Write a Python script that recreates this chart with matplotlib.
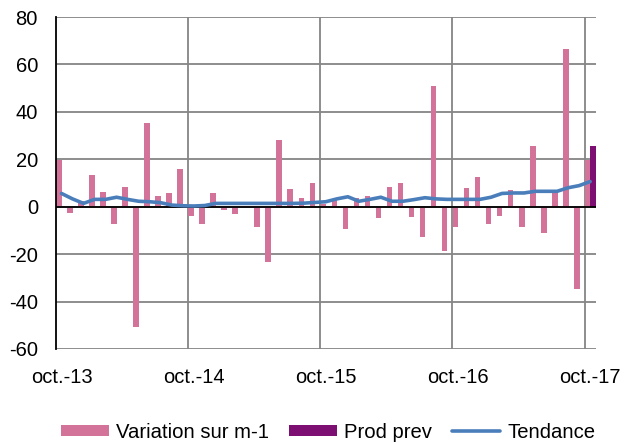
import matplotlib.pyplot as plt
import numpy as np

# Monthly series, oct-13 .. oct-17 (49 months)
variation = [19.5, -2.8, 2.6, 13.4, 6.3, -7.3, 8.2, -50.9, 35.2, 4.7, 5.6, 15.9,
             -3.9, -7.4, 5.6, -1.4, -3.1, 0.5, -8.4, -23.2, 28.2, 7.3, 3.8, 9.9,
             1.0, 2.8, -9.3, 3.5, 4.5, -4.9, 8.2, 9.9, -4.2, -12.7, 50.7, -18.6,
             -8.4, 8.0, 12.4, -7.4, -3.9, 7.2, -8.4, 25.6, -11.0, 5.6, 66.5, -34.5,
             19.7]
tendance = [5.6, 3.3, 1.4, 3.1, 3.1, 4.0, 3.1, 2.3, 2.1, 1.7, 0.7, 0.4,
            0.3, 0.5, 1.4, 1.4, 1.4, 1.4, 1.4, 1.4, 1.4, 1.4, 1.5, 1.8,
            2.1, 3.3, 4.2, 2.3, 3.1, 4.0, 2.3, 2.3, 3.0, 3.8, 3.3, 3.1,
            3.1, 3.1, 3.1, 4.0, 5.6, 5.8, 5.8, 6.5, 6.5, 6.5, 8.0, 8.9,
            10.6]
prod_prev_month = 48
prod_prev_value = 25.6
tick_labels = ['oct.-13', 'oct.-14', 'oct.-15', 'oct.-16', 'oct.-17']

plt.rcParams['font.family'] = ['Liberation Sans', 'DejaVu Sans']
plt.rcParams['axes.unicode_minus'] = False
fs = 14.5

pink = '#D4739A'
purple = '#7D0F72'
blue = '#4A7EBB'
grid = '#858585'

fig = plt.figure(figsize=(6.27, 4.43), dpi=100)
ax = fig.add_axes([0.0893, 0.2122, 0.8607, 0.7494])

x = np.arange(len(variation))
b1 = ax.bar(x - 0.22, variation, width=0.52, color=pink, label='Variation sur m-1', zorder=2)
b2 = ax.bar(prod_prev_month + 0.28, prod_prev_value, width=0.62, color=purple, label='Prod prev', zorder=2)
l1, = ax.plot(x, tendance, color=blue, linewidth=2.6, label='Tendance', zorder=4,
              solid_capstyle='round', solid_joinstyle='round')

ax.set_xlim(-0.5, len(variation) - 0.5)
ax.set_ylim(-60, 80)
ax.set_yticks(np.arange(-60, 81, 20))

# horizontal grid
for yv in np.arange(-60, 81, 20):
    ax.axhline(yv, color=grid, linewidth=1.3, zorder=1)
# vertical grid at year boundaries
for xv in np.arange(11.5, len(variation), 12):
    ax.axvline(xv, color=grid, linewidth=1.3, zorder=1)
ax.axhline(0, color='black', linewidth=1.3, zorder=3)

ax.set_xticks(np.arange(0, len(variation), 12))
ax.set_xticklabels(tick_labels)
ax.tick_params(axis='both', length=0, labelsize=fs)
ax.tick_params(axis='y', pad=13)
ax.tick_params(axis='x', pad=14)

for s in ['top', 'right', 'bottom']:
    ax.spines[s].set_visible(False)
ax.spines['left'].set_color('black')
ax.spines['left'].set_linewidth(1.3)
ax.spines['left'].set_zorder(3)

fig.legend(handles=[b1, b2, l1], loc='center', bbox_to_anchor=(0.523, 1 - 432 / 443),
           ncol=3, frameon=False, fontsize=14.6, handlelength=2.4, handleheight=0.5,
           handletextpad=0.35, columnspacing=0.95)

fig.savefig('out.png', dpi=100)
